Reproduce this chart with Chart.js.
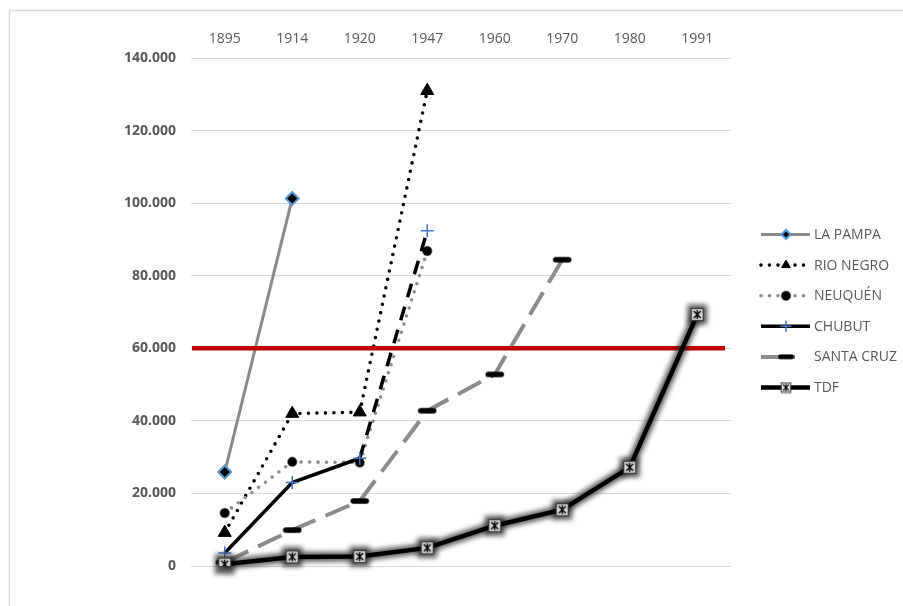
<!DOCTYPE html>
<html><head><meta charset="utf-8">
<script src="https://cdn.jsdelivr.net/npm/chart.js@4/dist/chart.umd.min.js"></script>
<style>html,body{margin:0;padding:0;background:#fff;}canvas{display:block;}</style>
</head><body>
<canvas id="c" width="903" height="606"></canvas>
<script>
// ---- data ----
const years = ['1895','1914','1920','1947','1960','1970','1980','1991'];
const seriesNames = ['LA PAMPA','RIO NEGRO','NEUQUÉN','CHUBUT','SANTA CRUZ','TDF'];
const laPampa   = [25900, 101300, null, null, null, null, null, null];
const rioNegro  = [9200, 42000, 42400, 131000, null, null, null, null];
const neuquen   = [14600, 28700, 28500, 86800, null, null, null, null];
const chubut    = [3600, 23000, 29700, 92400, null, null, null, null];
const santaCruz = [1000, 9900, 17900, 42800, 52800, 84400, null, null];
const tdf       = [500, 2500, 2600, 5000, 11100, 15500, 27200, 69300];
const yMin = 0, yMax = 140000, yStep = 20000;
const threshold = 60000;

// ---- custom marker images ----
function makeDash(scale){
  const c=document.createElement('canvas'); c.width=Math.round(20*scale); c.height=Math.round(8*scale);
  const g=c.getContext('2d'); g.strokeStyle='#000'; g.lineCap='round'; g.lineWidth=5.5*scale;
  g.beginPath(); g.moveTo(3.5*scale,4*scale); g.lineTo(16.5*scale,4*scale); g.stroke(); return c;
}
function makeTdf(scale){
  const s=Math.round(15*scale); const c=document.createElement('canvas'); c.width=s; c.height=s;
  const g=c.getContext('2d'); const k=s/15;
  g.fillStyle='#d4d4d4'; g.fillRect(1.5*k,1.5*k,12*k,12*k);
  g.strokeStyle='#3a3a3a'; g.lineWidth=1.2*k; g.strokeRect(1.5*k,1.5*k,12*k,12*k);
  g.strokeStyle='#000'; g.lineWidth=1.4*k; g.beginPath();
  g.moveTo(4*k,4*k); g.lineTo(11*k,11*k); g.moveTo(11*k,4*k); g.lineTo(4*k,11*k);
  g.moveTo(7.5*k,3*k); g.lineTo(7.5*k,12*k); g.stroke(); return c;
}
const dashImg = makeDash(1), dashImgS = makeDash(0.85);
const tdfImg = makeTdf(1), tdfImgS = makeTdf(0.8);

const datasets = [
  {label:seriesNames[0], data:laPampa, borderColor:'#8a8a8a', borderWidth:3,
   pointStyle:'rectRot', pointRadius:6.5, pointBackgroundColor:'#000', pointBorderColor:'#5b9bd5', pointBorderWidth:2,
   order:6, lg:{r:4.5}},
  {label:seriesNames[1], data:rioNegro, borderColor:'#000', borderWidth:3.6, borderDash:[0,8.5], borderCapStyle:'round',
   pointStyle:'triangle', pointRadius:7.5, pointBackgroundColor:'#000', pointBorderColor:'#000', pointBorderWidth:1,
   order:5, lg:{r:5}},
  {label:seriesNames[2], data:neuquen, borderColor:'#8c8c8c', borderWidth:3.6, borderDash:[0,8.5], borderCapStyle:'round',
   pointStyle:'circle', pointRadius:4.5, pointBackgroundColor:'#000', pointBorderColor:'rgba(0,0,0,0.45)', pointBorderWidth:1.5,
   order:4, lg:{r:4.5}},
  {label:seriesNames[3], data:chubut, borderColor:'#000', borderWidth:3.5,
   segment:{borderDash: c => c.p0DataIndex === 2 ? [14,10] : undefined},
   pointStyle:'cross', pointRadius:6.5, pointBorderColor:'#4472c4', pointBackgroundColor:'#4472c4', pointBorderWidth:1.5,
   order:3, lg:{r:5.5}},
  {label:seriesNames[4], data:santaCruz, borderColor:'#8c8c8c', borderWidth:4, borderDash:[26,11],
   pointStyle:dashImg, pointRadius:8, order:2, lg:{img:dashImgS, end:795}},
  {label:seriesNames[5], data:tdf, borderColor:'#000', borderWidth:4.5,
   pointStyle:tdfImg, pointRadius:7, order:1, lg:{img:tdfImgS}}
];
datasets.forEach(d=>{ d.fill=false; d.tension=0; d.spanGaps=false; d.pointHoverRadius=d.pointRadius; });

const fmt = v => String(v).replace(/\B(?=(\d{3})+(?!\d))/g, '.');

function drawMarker(ctx, ds, x, y){
  const lg = ds.lg;
  if (lg.img){ ctx.drawImage(lg.img, x-lg.img.width/2, y-lg.img.height/2); return; }
  const r = lg.r;
  ctx.save();
  ctx.fillStyle = ds.pointBackgroundColor; ctx.strokeStyle = ds.pointBorderColor; ctx.lineWidth = ds.pointBorderWidth;
  ctx.beginPath();
  if (ds.pointStyle==='rectRot'){
    ctx.moveTo(x-r,y); ctx.lineTo(x,y-r); ctx.lineTo(x+r,y); ctx.lineTo(x,y+r); ctx.closePath(); ctx.fill(); ctx.stroke();
  } else if (ds.pointStyle==='triangle'){
    ctx.moveTo(x,y-r); ctx.lineTo(x+r*0.866,y+r*0.5); ctx.lineTo(x-r*0.866,y+r*0.5); ctx.closePath(); ctx.fill(); ctx.stroke();
  } else if (ds.pointStyle==='circle'){
    ctx.arc(x,y,r,0,Math.PI*2); ctx.fill(); ctx.stroke();
  } else if (ds.pointStyle==='cross'){
    ctx.moveTo(x-r,y); ctx.lineTo(x+r,y); ctx.moveTo(x,y-r); ctx.lineTo(x,y+r); ctx.stroke();
  }
  ctx.restore();
}

const customPlugin = {
  id:'custom',
  beforeDraw(chart){
    const ctx=chart.ctx; ctx.save();
    ctx.strokeStyle='#d9d9d9'; ctx.lineWidth=1.5;
    ctx.beginPath(); ctx.moveTo(9.5,chart.height); ctx.lineTo(9.5,10.5); ctx.lineTo(chart.width,10.5); ctx.stroke();
    ctx.restore();
  },
  beforeDatasetDraw(chart,args){
    if (args.index===5){
      const ctx=chart.ctx, pts=chart.getDatasetMeta(5).data;
      ctx.save();
      ctx.filter='blur(2.5px)';
      ctx.strokeStyle='rgba(40,40,40,0.75)'; ctx.fillStyle='rgba(40,40,40,0.75)';
      ctx.lineWidth=10; ctx.lineJoin='round'; ctx.lineCap='round';
      ctx.beginPath();
      pts.forEach((p,i)=>{ if(i===0) ctx.moveTo(p.x,p.y); else ctx.lineTo(p.x,p.y); });
      ctx.stroke();
      pts.forEach(p=>{ ctx.fillRect(p.x-10,p.y-10,20,20); });
      ctx.restore();
    }
  },
  afterDatasetDraw(chart,args){
    const ctx=chart.ctx;
    if (args.index===4){
      const a=chart.chartArea, y=chart.scales.y.getPixelForValue(threshold);
      ctx.save(); ctx.strokeStyle='#c00000'; ctx.lineWidth=4.5;
      ctx.beginPath(); ctx.moveTo(a.left+1,y); ctx.lineTo(a.right-6,y); ctx.stroke(); ctx.restore();
    }
  },
  afterDraw(chart){
    const ctx=chart.ctx; const x1=761, x2=810, xm=786, y0=234.5, step=30.6;
    datasets.forEach((ds,i)=>{
      const y=y0+i*step;
      ctx.save();
      ctx.strokeStyle=ds.borderColor; ctx.lineWidth=ds.borderWidth;
      ctx.lineCap=ds.borderCapStyle||'butt';
      const dash=ds.borderDash||[];
      ctx.setLineDash(dash.length && dash[0]>=20 ? [] : dash);
      ctx.beginPath(); ctx.moveTo(x1,y); ctx.lineTo(ds.lg.end||x2,y); ctx.stroke();
      ctx.restore();
      drawMarker(ctx,ds,xm,y);
      ctx.save();
      ctx.fillStyle='#595959'; ctx.font='14px "Open Sans"'; ctx.textBaseline='middle'; ctx.textAlign='left';
      ctx.fillText(ds.label, 814, y+0.5);
      ctx.restore();
    });
  }
};

new Chart(document.getElementById('c'), {
  type:'line',
  data:{labels:years, datasets},
  options:{
    responsive:false, animation:false, events:[],
    layout:{padding:{left:0, right:172, top:0, bottom:40}},
    plugins:{legend:{display:false}, tooltip:{enabled:false}},
    scales:{
      x:{position:'top', offset:true,
         grid:{display:false, drawTicks:false}, border:{display:false},
         ticks:{padding:11, color:'#595959', font:{family:'"Open Sans"', size:14}, maxRotation:0},
         afterFit(s){ s.height=58; }},
      y:{min:yMin, max:yMax,
         grid:{color:'#d9d9d9', lineWidth:1, drawTicks:false}, border:{display:false},
         ticks:{stepSize:yStep, padding:15, color:'#595959', font:{family:'"Open Sans"', size:14, weight:'bold'}, callback:fmt},
         afterFit(s){ s.width=191; }}
    }
  },
  plugins:[customPlugin]
});
</script>
</body></html>
